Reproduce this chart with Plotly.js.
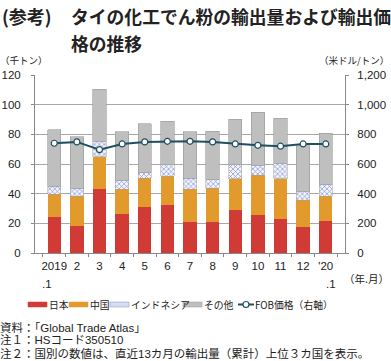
<!DOCTYPE html>
<html><head><meta charset="utf-8">
<script src="https://cdn.plot.ly/plotly-3.0.1.min.js"></script>
<style>body{margin:0;padding:0;background:#fff}#chart{width:391px;height:361px}</style>
</head><body><div id="chart"></div>
<script>
var months = ["2019","2","3","4","5","6","7","8","9","10","11","12","'20"];
var japan = [24.0,18.0,42.9,26.2,31.1,32.3,20.8,21.2,28.9,25.5,23.0,17.6,21.7];
var china = [15.7,20.1,22.1,16.7,19.2,19.6,22.3,22.6,21.0,26.8,26.9,18.0,16.6];
var indonesia = [5.4,5.4,10.3,6.3,4.3,7.7,7.2,5.8,9.7,7.0,10.6,5.9,7.7];
var others = [37.9,35.0,35.2,32.5,32.5,29.3,31.4,32.5,30.6,35.7,30.2,30.7,34.8];
var fobPrice = [740,749,697,735,749,753,753,749,735,726,720,735,735];
var seriesNames = ['日本','中国','インドネシア','その他','FOB価格（右軸）'];

var F = "'Liberation Sans', 'Noto Sans CJK JP', sans-serif";
var J = "'Noto Sans CJK JP', sans-serif";
var C = {japan:'#d13b36', china:'#e39a2d', indo:'#7f90d0', other:'#bfbfbf', line:'#1f4f60'};

var traces = [
 {type:'bar', name:seriesNames[0], x:months, y:japan, marker:{color:C.japan}},
 {type:'bar', name:seriesNames[1], x:months, y:china, marker:{color:C.china}},
 {type:'bar', name:seriesNames[2], x:months, y:indonesia,
  marker:{color:'#ffffff', pattern:{shape:'x', fgcolor:C.indo, bgcolor:'#f4f5fc', size:3.5, solidity:0.35}, line:{color:'#a0a0a0', width:0.5}}},
 {type:'bar', name:seriesNames[3], x:months, y:others, marker:{color:C.other, line:{color:'#9a9a9a', width:0.6}}},
 {type:'scatter', mode:'lines+markers', name:seriesNames[4], x:months, y:fobPrice, yaxis:'y2',
  line:{color:C.line, width:2}, marker:{color:'#ffffff', size:6, line:{color:C.line, width:1.2}}}
];

var L=35, R=345, T=75, B=253;
var pxX = function(px){return (px-L)/(R-L);};
var pxY = function(py){return (B-py)/(B-T);};

var layout = {
 width:391, height:361,
 margin:{l:L, r:391-R, t:T, b:361-B},
 barmode:'stack', bargap:0.41,
 paper_bgcolor:'#fff', plot_bgcolor:'#fff',
 showlegend:false,
 font:{family:F, size:11, color:'#222'},
 xaxis:{type:'category', tickson:'boundaries', ticks:'outside', ticklen:3, tickcolor:'#888', tickangle:0,
  showline:true, linecolor:'#888', linewidth:1, showgrid:false, ticklabelstandoff:2,
  tickfont:{family:F, size:11.5, color:'#222'}, fixedrange:true},
 yaxis:{range:[0,120], dtick:20, showgrid:true, gridcolor:'#a8a8a8', gridwidth:1, zeroline:false,
  showline:true, linecolor:'#888', ticks:'outside', ticklen:3, tickcolor:'#888', ticklabelstandoff:8,
  tickfont:{family:F, size:11.5, color:'#222'}, fixedrange:true},
 yaxis2:{range:[0,1200], dtick:200, overlaying:'y', side:'right', showgrid:false, zeroline:false,
  showline:true, linecolor:'#888', ticks:'outside', ticklen:3, tickcolor:'#888', tickformat:',', ticklabelstandoff:6,
  tickfont:{family:F, size:11.5, color:'#222'}, fixedrange:true}
};

var ann = [
 {x:pxX(0), y:pxY(16), xanchor:'left', yanchor:'middle', text:'<b>(参考)</b>', font:{family:J, size:18, color:'#222'}},
 {x:pxX(69), y:pxY(16), xanchor:'left', yanchor:'middle', text:'<b>タイの化工でん粉の輸出量および輸出価</b>', font:{family:J, size:17.8, color:'#222'}},
 {x:pxX(69), y:pxY(43), xanchor:'left', yanchor:'middle', text:'<b>格の推移</b>', font:{family:J, size:17.8, color:'#222'}},
 {x:pxX(-2), y:pxY(60), xanchor:'left', yanchor:'middle', text:'（千トン）', font:{family:J, size:9.5, color:'#222'}},
 {x:pxX(391), y:pxY(60), xanchor:'right', yanchor:'middle', text:'（米ドル/トン）', font:{family:J, size:9.5, color:'#222'}},
 {x:pxX(47), y:pxY(284), xanchor:'center', yanchor:'middle', text:'.1', font:{family:F, size:11.5, color:'#222'}},
 {x:pxX(331), y:pxY(284), xanchor:'center', yanchor:'middle', text:'.1', font:{family:F, size:11.5, color:'#222'}},
 {x:pxX(391), y:pxY(278), xanchor:'right', yanchor:'middle', text:'（年.月）', font:{family:J, size:10.5, color:'#222'}},
 {x:pxX(-2), y:pxY(327), xanchor:'left', yanchor:'middle', text:'資料：「Global Trade Atlas」', font:{family:F, size:11.5, color:'#222'}},
 {x:pxX(-2), y:pxY(340), xanchor:'left', yanchor:'middle', text:'注１：HSコード350510', font:{family:F, size:11.5, color:'#222'}},
 {x:pxX(-2), y:pxY(353), xanchor:'left', yanchor:'middle', text:'注２：国別の数値は、直近13カ月の輸出量（累計）上位３カ国を表示。', font:{family:F, size:11.5, color:'#222'}}
];

// custom legend
var legY = 304.5;
var legItems = [
 {sx:28, ex:47, tx:47, fill:C.japan, line:C.japan},
 {sx:69, ex:88, tx:88, fill:C.china, line:C.china},
 {sx:110, ex:129, tx:129, fill:'#d9ddf2', line:C.indo},
 {sx:183, ex:202, tx:202, fill:C.other, line:'#9a9a9a'}
];
var shapes = [];
legItems.forEach(function(it, i){
  shapes.push({type:'rect', xref:'paper', yref:'paper', x0:pxX(it.sx), x1:pxX(it.ex), y0:pxY(legY-2.5), y1:pxY(legY+2.5),
    fillcolor:it.fill, line:{color:it.line, width:0.5}});
  ann.push({x:pxX(it.tx), y:pxY(legY), xanchor:'left', yanchor:'middle', text:seriesNames[i], font:{family:J, size:9.8, color:'#222'}});
});
shapes.push({type:'line', xref:'paper', yref:'paper', x0:pxX(238), x1:pxX(254), y0:pxY(legY), y1:pxY(legY), line:{color:C.line, width:2}});
shapes.push({type:'circle', xref:'paper', yref:'paper', x0:pxX(243), x1:pxX(249), y0:pxY(legY-3), y1:pxY(legY+3), fillcolor:'#fff', line:{color:C.line, width:1.2}});
ann.push({x:pxX(253), y:pxY(legY), xanchor:'left', yanchor:'middle', text:seriesNames[4], font:{family:J, size:9.8, color:'#222'}});

ann.forEach(function(a){a.xref='paper'; a.yref='paper'; a.showarrow=false;});
layout.annotations = ann;
layout.shapes = shapes;

Plotly.newPlot('chart', traces, layout, {displayModeBar:false, staticPlot:true});
</script></body></html>
